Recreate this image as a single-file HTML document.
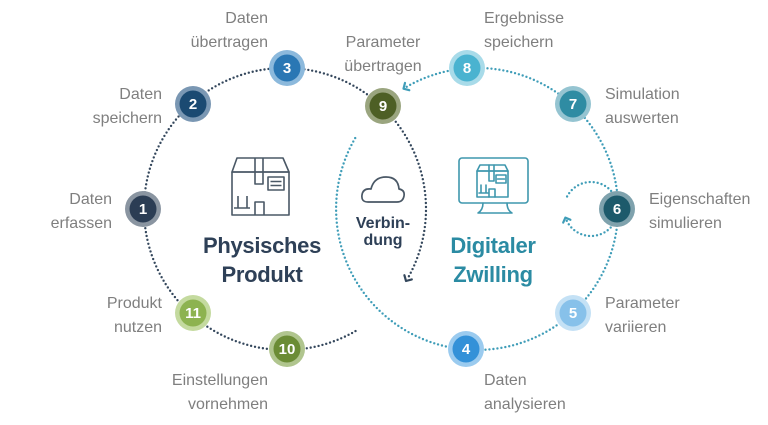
<!DOCTYPE html>
<html>
<head>
<meta charset="utf-8">
<style>
  html,body{margin:0;padding:0;background:#ffffff;}
  body{width:768px;height:425px;overflow:hidden;}
  svg{display:block;}
  .lbl{font-family:"Liberation Sans",sans-serif;font-size:16px;fill:#7f7f7f;}
  .num{font-family:"Liberation Sans",sans-serif;font-size:15px;font-weight:bold;fill:#ffffff;text-anchor:middle;}
  .title{font-family:"Liberation Sans",sans-serif;font-size:22px;font-weight:bold;text-anchor:middle;letter-spacing:-0.3px;}
</style>
</head>
<body>
<svg width="768" height="425" viewBox="0 0 768 425" xmlns="http://www.w3.org/2000/svg">
  <!-- dotted arcs -->
  <path d="M355.5,331.1 A141,141 0 1 1 407.1,279.5" fill="none" stroke="#34475c" stroke-width="2.4" stroke-dasharray="0 4" stroke-linecap="round"/>
  <polyline points="411.8,279.4 406,281 404.4,275.2" fill="none" stroke="#34475c" stroke-width="2.2" stroke-linecap="round" stroke-linejoin="round"/>

  <path d="M355.2,138.1 A141,141 0 1 0 404.8,87.9" fill="none" stroke="#3f9db8" stroke-width="2.4" stroke-dasharray="0 4" stroke-linecap="round"/>
  <polyline points="409.3,90.2 403.5,88.7 405,82.9" fill="none" stroke="#3f9db8" stroke-width="2.2" stroke-linecap="round" stroke-linejoin="round"/>

  <path d="M567.1,196.5 A27,27 0 1 1 565.9,218.9" fill="none" stroke="#3f9db8" stroke-width="2.4" stroke-dasharray="0 4" stroke-linecap="round"/>
  <polyline points="563.2,222.6 565.4,217.6 570.4,219.8" fill="none" stroke="#3f9db8" stroke-width="2.2" stroke-linecap="round" stroke-linejoin="round"/>

  <!-- nodes -->
  <g>
    <circle cx="143" cy="209" r="18" fill="#8a95a1"/><circle cx="143" cy="209" r="13.5" fill="#2b3d54"/>
    <text class="num" x="143" y="214">1</text>

    <circle cx="193" cy="104" r="18" fill="#7a97b3"/><circle cx="193" cy="104" r="13.5" fill="#1b4a72"/>
    <text class="num" x="193" y="109">2</text>

    <circle cx="287" cy="68" r="18" fill="#8cb9dc"/><circle cx="287" cy="68" r="13.5" fill="#2a77b4"/>
    <text class="num" x="287" y="73">3</text>

    <circle cx="383" cy="106" r="18" fill="#9aa57f"/><circle cx="383" cy="106" r="13.5" fill="#4d5f25"/>
    <text class="num" x="383" y="111">9</text>

    <circle cx="287" cy="349" r="18" fill="#b0c58e"/><circle cx="287" cy="349" r="13.5" fill="#6b8c35"/>
    <text class="num" x="287" y="354">10</text>

    <circle cx="193" cy="313" r="18" fill="#c4da9f"/><circle cx="193" cy="313" r="13.5" fill="#8db350"/>
    <text class="num" x="193" y="318">11</text>

    <circle cx="467" cy="68" r="18" fill="#a8dbe9"/><circle cx="467" cy="68" r="13.5" fill="#4ab3d0"/>
    <text class="num" x="467" y="73">8</text>

    <circle cx="573" cy="104" r="18" fill="#95c4d1"/><circle cx="573" cy="104" r="13.5" fill="#2f8ca3"/>
    <text class="num" x="573" y="109">7</text>

    <circle cx="617" cy="209" r="18" fill="#7fa2ad"/><circle cx="617" cy="209" r="13.5" fill="#1d5a6b"/>
    <text class="num" x="617" y="214">6</text>

    <circle cx="573" cy="313" r="18" fill="#c4e1f5"/><circle cx="573" cy="313" r="13.5" fill="#87c1ea"/>
    <text class="num" x="573" y="318">5</text>

    <circle cx="466" cy="349" r="18" fill="#9bcbef"/><circle cx="466" cy="349" r="13.5" fill="#3391d8"/>
    <text class="num" x="466" y="354">4</text>
  </g>

  <!-- box icon -->
  <g fill="none" stroke="#4a5866" stroke-width="1.6" stroke-linejoin="round">
    <path d="M237,158 H283 L289,172 H232 Z"/>
    <rect x="232" y="172" width="57" height="43"/>
    <path d="M255,158 V184 H263 V158"/>
    <rect x="268" y="177" width="16" height="13"/>
    <path d="M270.5,181.5 H281.5 M270.5,185.5 H281.5"/>
    <path d="M255,215 V202 H264 V215"/>
    <path d="M238,196 V208 M247,196 V208 M234,208 H250"/>
  </g>

  <!-- monitor icon -->
  <g fill="none" stroke="#3f97ad" stroke-width="1.6" stroke-linejoin="round" stroke-linecap="round">
    <rect x="459" y="158" width="69" height="45" rx="3"/>
    <path d="M483,203 Q483,210 478,213 H512 Q507,210 507,203"/>
    <path d="M480,165 H505 L508,171 H477 Z"/>
    <rect x="477" y="171" width="31" height="26"/>
    <path d="M489,165 V181 H494 V165"/>
    <rect x="496" y="175" width="10" height="8"/>
    <path d="M497.5,179 H504.5"/>
    <path d="M489,197 V189 H495 V197"/>
    <path d="M481,185 V193 M486,185 V193 M479,193 H488"/>
  </g>

  <!-- cloud icon -->
  <path d="M368,202 Q361,202 362,195 Q363,188 371,189 Q374,177 386,177 Q398,177 399,189 Q405,190 404,196 Q403,202 397,202 Z" fill="none" stroke="#4a5866" stroke-width="1.7" stroke-linejoin="round"/>

  <!-- center titles -->
  <text class="title" fill="#2e4057" x="262" y="253">Physisches</text>
  <text class="title" fill="#2e4057" x="262" y="282">Produkt</text>
  <text class="title" fill="#2b8ba3" x="493" y="253">Digitaler</text>
  <text class="title" fill="#2b8ba3" x="493" y="282">Zwilling</text>

  <text font-family="Liberation Sans, sans-serif" font-size="16" font-weight="bold" fill="#2e4057" text-anchor="middle" x="383" y="228">Verbin-</text>
  <text font-family="Liberation Sans, sans-serif" font-size="16" font-weight="bold" fill="#2e4057" text-anchor="middle" x="383" y="245">dung</text>

  <!-- labels -->
  <g class="lbl">
    <text x="268" y="23" text-anchor="end">Daten</text>
    <text x="268" y="47" text-anchor="end">übertragen</text>

    <text x="383" y="47" text-anchor="middle">Parameter</text>
    <text x="383" y="71" text-anchor="middle">übertragen</text>

    <text x="484" y="23">Ergebnisse</text>
    <text x="484" y="47">speichern</text>

    <text x="605" y="99">Simulation</text>
    <text x="605" y="123">auswerten</text>

    <text x="649" y="204">Eigenschaften</text>
    <text x="649" y="228">simulieren</text>

    <text x="605" y="308">Parameter</text>
    <text x="605" y="332">variieren</text>

    <text x="484" y="385">Daten</text>
    <text x="484" y="409">analysieren</text>

    <text x="268" y="385" text-anchor="end">Einstellungen</text>
    <text x="268" y="409" text-anchor="end">vornehmen</text>

    <text x="162" y="308" text-anchor="end">Produkt</text>
    <text x="162" y="332" text-anchor="end">nutzen</text>

    <text x="112" y="204" text-anchor="end">Daten</text>
    <text x="112" y="228" text-anchor="end">erfassen</text>

    <text x="162" y="99" text-anchor="end">Daten</text>
    <text x="162" y="123" text-anchor="end">speichern</text>
  </g>
</svg>
</body>
</html>
